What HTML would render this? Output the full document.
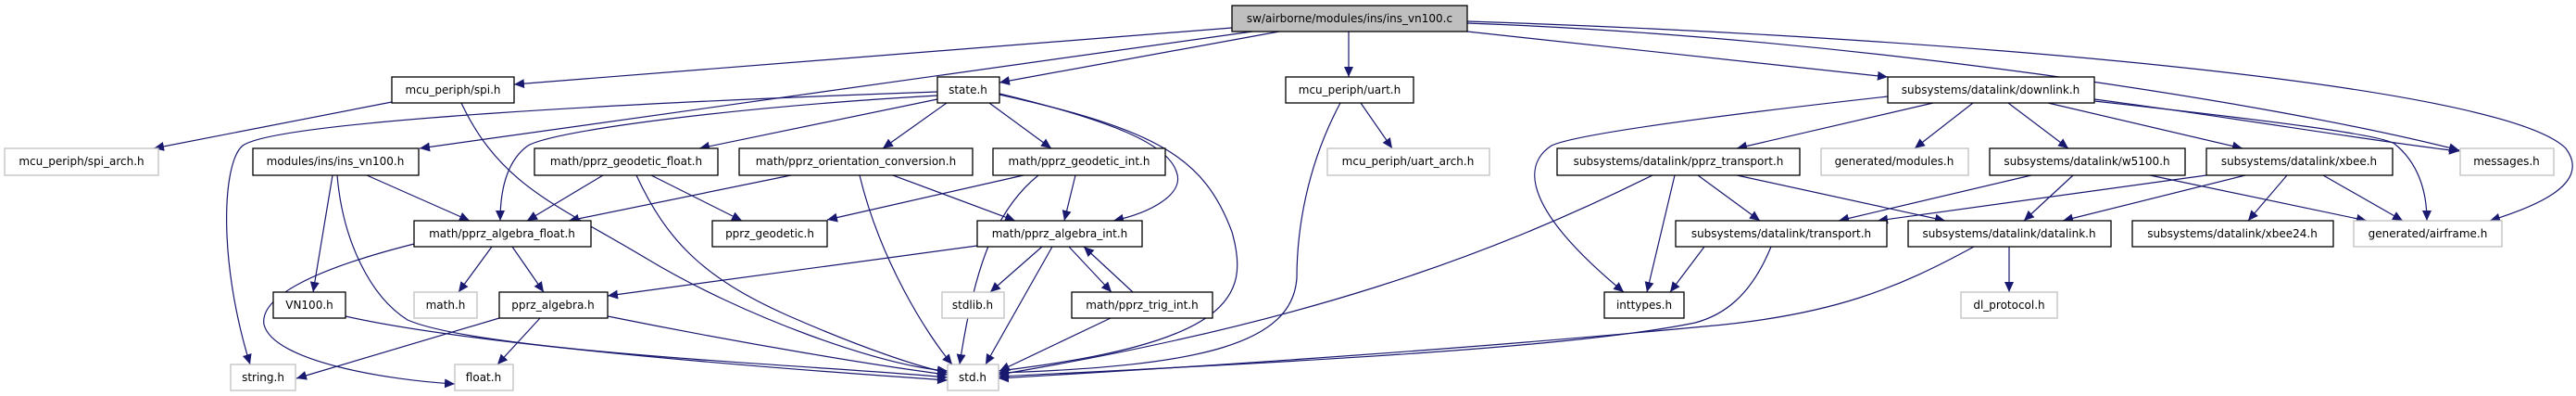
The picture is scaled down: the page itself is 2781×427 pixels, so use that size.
<!DOCTYPE html>
<html><head><meta charset="utf-8"><style>
html,body{margin:0;padding:0;background:#fff;}
svg{display:block;}
text{font-family:"DejaVu Sans","Liberation Sans",sans-serif;font-size:12px;fill:#000;text-anchor:middle;}
.e{fill:none;stroke:#191970;stroke-width:1.2;}
.n{fill:#fff;stroke:#000;stroke-width:1.3;}
.g{fill:#fff;stroke:#bfbfbf;stroke-width:1.3;}
</style></head><body>
<svg width="2781" height="427" viewBox="0 0 2781 427" xmlns="http://www.w3.org/2000/svg">
<defs><marker id="a" markerUnits="userSpaceOnUse" markerWidth="12" markerHeight="10" refX="11" refY="5" orient="auto"><path d="M0,0 L11,5 L0,10 Z" fill="#191970"/></marker></defs>
<g marker-end="url(#a)">
<!-- main -->
<path class="e" d="M1330,30 L555,91"/>
<path class="e" d="M1352,34 L453,160"/>
<path class="e" d="M1381,34 L1079,89"/>
<path class="e" d="M1456,34 L1456,83"/>
<path class="e" d="M1584,34 L2038,83"/>
<path class="e" d="M1584,25 C2000,40 2450,110 2655,162"/>
<path class="e" d="M1584,23 C2100,40 2700,90 2770,160 C2800,200 2730,225 2688,238"/>
<!-- state -->
<path class="e" d="M1012,99 C700,110 300,130 262,157 C240,175 235,280 270,393"/>
<path class="e" d="M1012,103 C800,115 600,140 570,157 C545,175 540,210 540,238"/>
<path class="e" d="M1012,107 L755,160"/>
<path class="e" d="M1022,111 L953,160"/>
<path class="e" d="M1068,111 L1135,160"/>
<path class="e" d="M1079,101 C1200,130 1260,155 1270,185 C1280,210 1240,230 1202,238"/>
<path class="e" d="M1079,102 C1250,140 1300,170 1330,250 C1350,320 1330,370 1078,400"/>
<!-- spi -->
<path class="e" d="M423,110 L166,160"/>
<path class="e" d="M498,111 C540,200 600,220 700,280 C800,340 950,395 1023,400"/>
<!-- ins_vn100.h -->
<path class="e" d="M396,189 L507,238"/>
<path class="e" d="M359,189 L338,315"/>
<path class="e" d="M364,189 C370,260 400,320 440,345 C520,380 900,395 1023,407"/>
<!-- geodetic_float -->
<path class="e" d="M651,189 L569,238"/>
<path class="e" d="M703,189 L801,238"/>
<path class="e" d="M687,189 C720,260 760,300 850,340 C930,375 990,395 1023,402"/>
<!-- orientation -->
<path class="e" d="M854,189 L614,238"/>
<path class="e" d="M964,189 L1096,238"/>
<path class="e" d="M928,189 C950,280 1000,360 1028,393"/>
<!-- geodetic_int -->
<path class="e" d="M1105,189 L893,237"/>
<path class="e" d="M1121,189 C1070,230 1050,300 1036,393"/>
<path class="e" d="M1161,189 L1149,238"/>
<!-- algebra_float -->
<path class="e" d="M531,266 L495,315"/>
<path class="e" d="M553,266 L587,315"/>
<path class="e" d="M447,263 C340,290 280,320 285,350 C295,390 420,410 491,414"/>
<!-- algebra_int -->
<path class="e" d="M1055,265 L656,319"/>
<path class="e" d="M1125,266 L1069,315"/>
<path class="e" d="M1136,266 L1064,393"/>
<path class="e" d="M1154,266 L1200,315"/>
<path class="e" d="M1223,315 L1170,266"/>
<path class="e" d="M1199,343 L1079,400"/>
<!-- VN100, pprz_algebra -->
<path class="e" d="M373,341 C500,370 800,395 1023,410"/>
<path class="e" d="M539,343 L320,408"/>
<path class="e" d="M583,343 L537,393"/>
<path class="e" d="M656,341 C800,370 950,395 1023,404"/>
<!-- uart -->
<path class="e" d="M1447,111 C1410,180 1400,250 1400,300 C1395,370 1300,395 1078,402"/>
<path class="e" d="M1469,111 L1503,160"/>
<!-- downlink -->
<path class="e" d="M2087,111 L1875,160"/>
<path class="e" d="M2130,111 L2067,160"/>
<path class="e" d="M2168,111 L2233,160"/>
<path class="e" d="M2211,111 L2421,160"/>
<path class="e" d="M2261,107 C2400,125 2580,155 2655,163"/>
<path class="e" d="M2261,109 C2450,130 2570,145 2585,155 C2610,175 2620,205 2620,238"/>
<path class="e" d="M2038,104 C1850,125 1700,145 1675,157 C1640,180 1650,230 1753,315"/>
<!-- pprz_transport -->
<path class="e" d="M1784,189 C1600,280 1400,350 1078,404"/>
<path class="e" d="M1808,189 L1778,315"/>
<path class="e" d="M1833,189 L1900,238"/>
<path class="e" d="M1875,189 L2100,238"/>
<!-- transport -->
<path class="e" d="M1840,266 L1803,315"/>
<path class="e" d="M1912,266 C1890,320 1860,340 1830,348 C1700,375 1400,390 1078,406"/>
<!-- datalink -->
<path class="e" d="M2131,266 C2050,310 1980,340 1840,352 C1600,375 1300,395 1078,408"/>
<path class="e" d="M2169,266 L2169,315"/>
<!-- w5100 -->
<path class="e" d="M2193,189 L1985,238"/>
<path class="e" d="M2238,189 L2185,238"/>
<path class="e" d="M2321,189 L2555,238"/>
<!-- xbee -->
<path class="e" d="M2382,189 L2027,238"/>
<path class="e" d="M2424,189 L2227,238"/>
<path class="e" d="M2469,189 L2427,238"/>
<path class="e" d="M2508,189 L2594,238"/>
</g>
<!-- nodes -->
<rect x="1330" y="6" width="254" height="28" fill="#bfbfbf" stroke="#000" stroke-width="1.3"/><text x="1457" y="24">sw/airborne/modules/ins/ins_vn100.c</text>
<rect class="n" x="423" y="83" width="132" height="28"/><text x="489" y="101">mcu_periph/spi.h</text>
<rect class="n" x="1012" y="83" width="67" height="28"/><text x="1045" y="101">state.h</text>
<rect class="n" x="1388" y="83" width="138" height="28"/><text x="1457" y="101">mcu_periph/uart.h</text>
<rect class="n" x="2038" y="83" width="223" height="28"/><text x="2149" y="101">subsystems/datalink/downlink.h</text>
<rect class="g" x="5" y="160" width="166" height="29"/><text x="88" y="178">mcu_periph/spi_arch.h</text>
<rect class="n" x="273" y="160" width="179" height="29"/><text x="362" y="178">modules/ins/ins_vn100.h</text>
<rect class="n" x="577" y="160" width="198" height="29"/><text x="676" y="178">math/pprz_geodetic_float.h</text>
<rect class="n" x="798" y="160" width="252" height="29"/><text x="924" y="178">math/pprz_orientation_conversion.h</text>
<rect class="n" x="1072" y="160" width="186" height="29"/><text x="1165" y="178">math/pprz_geodetic_int.h</text>
<rect class="g" x="1433" y="160" width="175" height="29"/><text x="1520" y="178">mcu_periph/uart_arch.h</text>
<rect class="n" x="1681" y="160" width="262" height="29"/><text x="1812" y="178">subsystems/datalink/pprz_transport.h</text>
<rect class="g" x="1966" y="160" width="159" height="29"/><text x="2045" y="178">generated/modules.h</text>
<rect class="n" x="2148" y="160" width="211" height="29"/><text x="2253" y="178">subsystems/datalink/w5100.h</text>
<rect class="n" x="2382" y="160" width="201" height="29"/><text x="2482" y="178">subsystems/datalink/xbee.h</text>
<rect class="g" x="2656" y="160" width="101" height="29"/><text x="2706" y="178">messages.h</text>
<rect class="n" x="447" y="238" width="191" height="28"/><text x="542" y="256">math/pprz_algebra_float.h</text>
<rect class="n" x="769" y="238" width="124" height="28"/><text x="831" y="256">pprz_geodetic.h</text>
<rect class="n" x="1055" y="238" width="178" height="28"/><text x="1144" y="256">math/pprz_algebra_int.h</text>
<rect class="n" x="1809" y="238" width="228" height="28"/><text x="1923" y="256">subsystems/datalink/transport.h</text>
<rect class="n" x="2060" y="238" width="219" height="28"/><text x="2169" y="256">subsystems/datalink/datalink.h</text>
<rect class="n" x="2302" y="238" width="217" height="28"/><text x="2410" y="256">subsystems/datalink/xbee24.h</text>
<rect class="g" x="2541" y="238" width="160" height="28"/><text x="2621" y="256">generated/airframe.h</text>
<rect class="n" x="295" y="315" width="78" height="28"/><text x="334" y="333">VN100.h</text>
<rect class="g" x="447" y="315" width="68" height="28"/><text x="481" y="333">math.h</text>
<rect class="n" x="539" y="315" width="117" height="28"/><text x="597" y="333">pprz_algebra.h</text>
<rect class="g" x="1017" y="315" width="67" height="28"/><text x="1050" y="333">stdlib.h</text>
<rect class="n" x="1157" y="315" width="152" height="28"/><text x="1233" y="333">math/pprz_trig_int.h</text>
<rect class="n" x="1732" y="315" width="86" height="28"/><text x="1775" y="333">inttypes.h</text>
<rect class="g" x="2117" y="315" width="104" height="28"/><text x="2169" y="333">dl_protocol.h</text>
<rect class="g" x="249" y="393" width="70" height="28"/><text x="284" y="411">string.h</text>
<rect class="g" x="491" y="393" width="63" height="28"/><text x="522" y="411">float.h</text>
<rect class="g" x="1023" y="393" width="55" height="28"/><text x="1050" y="411">std.h</text>
</svg>
</body></html>
